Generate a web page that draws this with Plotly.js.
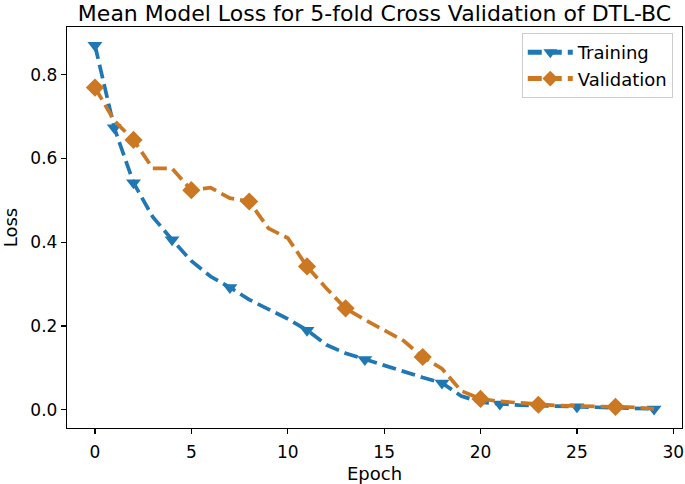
<!DOCTYPE html>
<html>
<head>
<meta charset="utf-8">
<script src="https://cdn.plot.ly/plotly-3.0.1.min.js"></script>
<style>html,body{margin:0;padding:0;background:#fff;}#chart{width:685px;height:484px;}</style>
</head>
<body>
<div id="chart"></div>
<script>
const epochs = [0,1,2,3,4,5,6,7,8,9,10,11,12,13,14,15,16,17,18,19,20,21,22,23,24,25,26,27,28,29];
const trainingLoss = [0.870,0.673,0.542,0.460,0.406,0.355,0.318,0.292,0.263,0.240,0.217,0.190,0.155,0.135,0.120,0.105,0.092,0.077,0.064,0.033,0.018,0.014,0.011,0.010,0.008,0.007,0.006,0.005,0.004,0.002];
const validationLoss = [0.769,0.690,0.644,0.576,0.576,0.524,0.530,0.505,0.497,0.433,0.410,0.342,0.290,0.242,0.215,0.190,0.165,0.126,0.098,0.045,0.026,0.020,0.016,0.012,0.010,0.009,0.008,0.007,0.006,0.002];
const trainingMarked = [0,1,2,4,7,11,14,18,21,25,29];
const validationMarked = [0,2,5,8,11,13,17,20,23,27];
const yTicks = [0.0,0.2,0.4,0.6,0.8];
const xTicks = [0,5,10,15,20,25,30];

const font = "DejaVu Sans, sans-serif";
function sizes(marked, s){ return epochs.map((e,i)=> marked.includes(i) ? s : 0); }

const traces = [
  {x: epochs, y: trainingLoss, name: 'Training', type: 'scatter', mode: 'lines+markers', legendgroup: 'a',
   line: {color: '#1f77b4', width: 3.7, dash: '14px,6px'},
   marker: {symbol: 'triangle-down', color: '#1f77b4', opacity: 1, size: sizes(trainingMarked, 13), line: {width: 0}}},
  {x: epochs, y: validationLoss, name: 'Validation', type: 'scatter', mode: 'lines+markers', legendgroup: 'b',
   line: {color: '#cc7722', width: 3.7, dash: '14px,6px'},
   marker: {symbol: 'diamond', color: '#cc7722', opacity: 1, size: sizes(validationMarked, 14), line: {width: 0}}}
];

const axisCommon = {
  showgrid: false, zeroline: false, showline: true, mirror: true,
  linecolor: '#000', linewidth: 1.2, ticks: 'outside', ticklen: 5, tickwidth: 1.2, tickcolor: '#000',
  tickfont: {family: font, size: 17, color: '#000'}
};

const layout = {
  width: 685, height: 484,
  margin: {l: 67, r: 3, t: 27, b: 56},
  paper_bgcolor: '#fff', plot_bgcolor: '#fff',
  font: {family: font, color: '#000'},
  title: {text: 'Mean Model Loss for 5-fold Cross Validation of DTL-BC', font: {family: font, size: 22, color: '#000'},
          x: 0.5, xref: 'paper', y: 0.973, yref: 'container', yanchor: 'middle'},
  xaxis: Object.assign({}, axisCommon, {range: [-1.45, 30.45], tickvals: xTicks, ticktext: xTicks.map(String),
          ticklabelstandoff: 3,
          title: {text: 'Epoch', font: {family: font, size: 18, color: '#000'}, standoff: 6}}),
  yaxis: Object.assign({}, axisCommon, {range: [-0.0435, 0.9135], tickvals: yTicks, ticktext: yTicks.map(v=>v.toFixed(1)),
          title: {text: 'Loss', font: {family: font, size: 18, color: '#000'}, standoff: 9}}),
  legend: {x: 0.985, xanchor: 'right', y: 0.985, yanchor: 'top', bgcolor: 'rgba(255,255,255,0.8)',
           bordercolor: '#cccccc', borderwidth: 1, font: {family: font, size: 18, color: '#000'},
           itemsizing: 'constant', itemwidth: 45, traceorder: 'grouped', tracegroupgap: 0},
  showlegend: true
};

Plotly.newPlot('chart', traces, layout, {displayModeBar: false, staticPlot: true});
</script>
</body>
</html>
